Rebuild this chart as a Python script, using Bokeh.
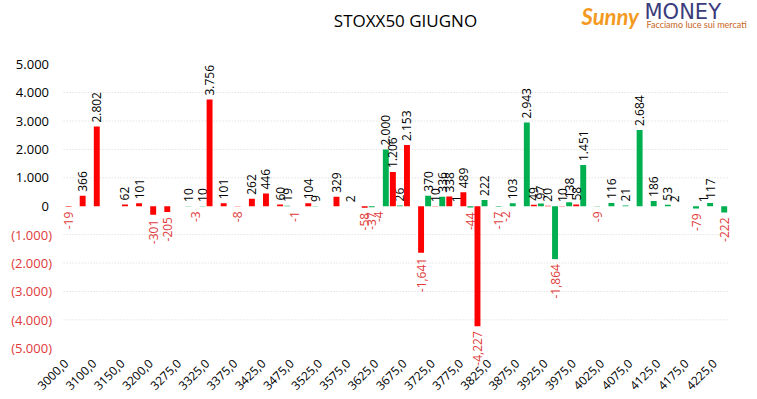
import math
from bokeh.plotting import figure
from bokeh.models import ColumnDataSource, Range1d, Label
from bokeh.core.properties import value
from bokeh.embed import file_html
from bokeh.resources import INLINE

title_text = "STOXX50 GIUGNO"
strikes = [3000, 3050, 3100, 3125, 3150, 3175, 3200, 3250, 3275, 3300,
           3325, 3350, 3375, 3400, 3425, 3450, 3475, 3500, 3525, 3550,
           3575, 3600, 3625, 3650, 3675, 3700, 3725, 3750, 3775, 3800,
           3825, 3850, 3875, 3900, 3925, 3950, 3975, 4000, 4025, 4050,
           4075, 4100, 4125, 4150, 4175, 4200, 4225, 4250]
green_vals = [None, None, None, None, None, None, None, None, None, 10,
              10, None, None, None, None, None, 19, None, 9, None,
              None, None, -37, 2000, 26, None, 370, 336, 1, -44,
              222, -17, 103, 2943, 97, -1864, 138, 1451, -9, 116,
              21, 2684, 186, 53, None, -79, 117, -222]
red_vals = [-19, 366, 2802, None, 62, 101, -301, -205, None, -3,
            3756, 101, -8, 262, 446, 60, -1, 104, None, 329,
            2, -58, -4, 1206, 2153, -1641, 10, 338, 489, -4227,
            None, -2, None, 49, 20, 10, 58, None, None, None,
            None, None, None, 2, None, 1, None, None]
y_ticks = [-5000, -4000, -3000, -2000, -1000, 0, 1000, 2000, 3000, 4000, 5000]
grid_ticks = [-4000, -3000, -2000, -1000, 1000, 2000, 3000, 4000]

GREEN = "#00b050"
RED = "#ff0000"
NEG_TXT = "#e03a3a"
FONT = "Open Sans"

n = len(strikes)
W, H = 757, 399
# plot-area placement inside the canvas (pixels)
PL, PR, PT, PB = 57.5, 22.7, 63.7, 51.3
cat_px = (W - PL - PR) / n
ymin, ymax = min(y_ticks), max(y_ticks)
unit_px = (H - PT - PB) / (ymax - ymin)
x_start = -0.5 - PL / cat_px
x_end = n - 0.5 + PR / cat_px
y_start = ymin - PB / unit_px
y_end = ymax + PT / unit_px


def pos_label(v):
    return f"{v:,}".replace(",", ".")


def y_label(v):
    if v < 0:
        return "(" + f"{-v:,}".replace(",", ".") + ")"
    return f"{v:,}".replace(",", ".")


p = figure(width=W, height=H, output_backend="svg", toolbar_location=None,
           x_range=Range1d(x_start, x_end), y_range=Range1d(y_start, y_end),
           x_axis_location=None, y_axis_location=None,
           min_border=0, title=None)
p.outline_line_color = None
p.background_fill_color = "white"
p.border_fill_color = "white"
p.xgrid.visible = False
p.ygrid.visible = False

# dotted gridlines
p.segment(x0=[-0.1] * len(grid_ticks), x1=[n - 0.95] * len(grid_ticks),
          y0=grid_ticks, y1=grid_ticks, line_color="#d4d4d4",
          line_dash="1 2", line_width=1)

for vals, off, col in ((green_vals, -0.25, GREEN), (red_vals, 0.25, RED)):
    xs = [i + off for i, v in enumerate(vals) if v is not None]
    tops = [v for v in vals if v is not None]
    src = ColumnDataSource(dict(x=xs, top=tops))
    p.vbar(x="x", top="top", bottom=0, width=0.42, source=src,
           fill_color=col, line_color=None)
    pos = ColumnDataSource(dict(x=[x for x, t in zip(xs, tops) if t >= 0],
                                y=[t for t in tops if t >= 0],
                                txt=[pos_label(t) for t in tops if t >= 0]))
    neg = ColumnDataSource(dict(x=[x for x, t in zip(xs, tops) if t < 0],
                                y=[t for t in tops if t < 0],
                                txt=[f"{t:,}" for t in tops if t < 0]))
    p.text(x="x", y="y", text="txt", source=pos, angle=math.pi / 2,
           text_align="left", text_baseline="middle", y_offset=-4,
           text_font=value(FONT), text_font_size="12px", text_color="#000000")
    p.text(x="x", y="y", text="txt", source=neg, angle=math.pi / 2,
           text_align="right", text_baseline="middle", y_offset=5,
           text_font=value(FONT), text_font_size="12px", text_color=NEG_TXT)

# y tick labels
pos_t = [t for t in y_ticks if t >= 0]
neg_t = [t for t in y_ticks if t < 0]
p.text(x=[-0.5] * len(pos_t), y=pos_t, text=[y_label(t) for t in pos_t],
       x_offset=-9, text_align="right", text_baseline="middle",
       text_font=value(FONT), text_font_size="13px", text_color="#000000")
p.text(x=[-0.5] * len(neg_t), y=neg_t, text=[y_label(t) for t in neg_t],
       x_offset=-6, text_align="right", text_baseline="middle",
       text_font=value(FONT), text_font_size="13px", text_color=NEG_TXT)

# x tick labels (every other strike)
even_idx = list(range(0, n, 2))
p.text(x=even_idx, y=[ymin] * len(even_idx),
       text=[f"{strikes[i]},0" for i in even_idx],
       angle=math.pi / 4, x_offset=1, y_offset=13,
       text_align="right", text_baseline="middle",
       text_font=value(FONT), text_font_size="12px", text_color="#000000")

# title
p.add_layout(Label(x=405, y=H - 20, x_units="screen", y_units="screen",
                   text=title_text, text_align="center", text_baseline="middle",
                   text_font=FONT, text_font_size="17px", text_color="#000000"))

# logo
p.add_layout(Label(x=581, y=H - 16, x_units="screen", y_units="screen",
                   text="Sunny", text_align="left", text_baseline="middle",
                   text_font="Lato", text_font_style="bold italic",
                   text_font_size="22px", text_color="#f39a1e"))
p.add_layout(Label(x=644, y=H - 11, x_units="screen", y_units="screen",
                   text="MONEY", text_align="left", text_baseline="middle",
                   text_font="DejaVu Sans", text_font_size="21px",
                   text_color="#3a3c7c"))
p.add_layout(Label(x=646, y=H - 24, x_units="screen", y_units="screen",
                   text="Facciamo luce sui mercati", text_align="left",
                   text_baseline="middle", text_font="Lato",
                   text_font_size="9px", text_color="#c8651b"))

open("out.html", "w").write(file_html(p, INLINE))
